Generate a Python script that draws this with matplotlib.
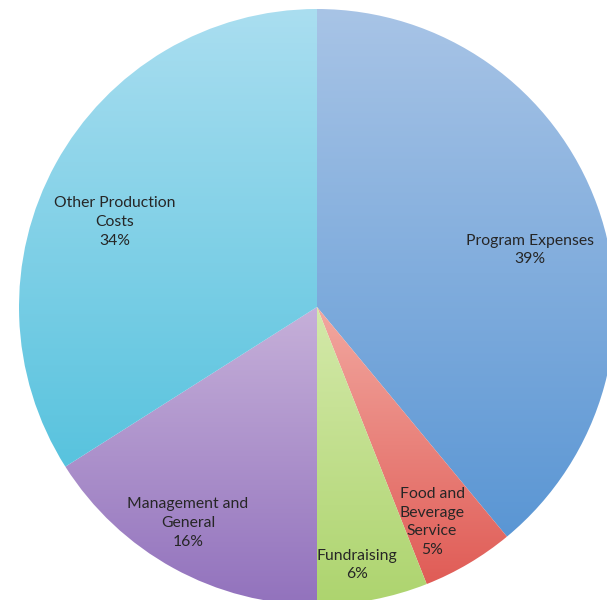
import numpy as np
import matplotlib.pyplot as plt
from matplotlib.colors import LinearSegmentedColormap

labels = ["Program Expenses", "Food and\nBeverage\nService", "Fundraising",
          "Management and\nGeneral", "Other Production\nCosts"]
values = [39, 5, 6, 16, 34]
# top / bottom colours of the vertical gradient in each slice
top_colors = ["#A8C4E6", "#F2A8A0", "#D4E9AA", "#C6B0D9", "#AADEF0"]
bottom_colors = ["#5A96D4", "#E05C56", "#ADD46E", "#9272BD", "#58C3DE"]

# label centres in pixel coords (x, y from top)
label_pos = [(530, 250), (432, 522), (357, 565), (188, 523), (115, 222)]

fig = plt.figure(figsize=(6.07, 6.00), dpi=100)
ax = fig.add_axes([0, 0, 1, 1])

cx, cy, r = 317, 600 - 307, 298
wedges, _ = ax.pie(values, startangle=90, counterclock=False,
                   center=(cx, cy), radius=r, frame=True,
                   wedgeprops=dict(linewidth=0))

grad = np.linspace(0, 1, 256).reshape(-1, 1)
for w, c1, c2 in zip(wedges, top_colors, bottom_colors):
    w.set_facecolor("none")
    bb = w.get_path().get_extents(w.get_transform() - ax.transData)
    cmap = LinearSegmentedColormap.from_list("g", [c1, c2])
    im = ax.imshow(grad, cmap=cmap, aspect="auto",
                   extent=[bb.x0, bb.x1, bb.y0, bb.y1], origin="upper",
                   zorder=1)
    im.set_clip_path(w)

for lab, v, (x, y) in zip(labels, values, label_pos):
    ax.text(x, 600 - y, f"{lab}\n{v}%", ha="center", va="center",
            fontsize=11.3, family="Lato", color="#262626", linespacing=1.45,
            zorder=3)

ax.set_xlim(0, 607)
ax.set_ylim(0, 600)
ax.set_aspect("equal")
ax.axis("off")
fig.savefig("out.png", dpi=100)
